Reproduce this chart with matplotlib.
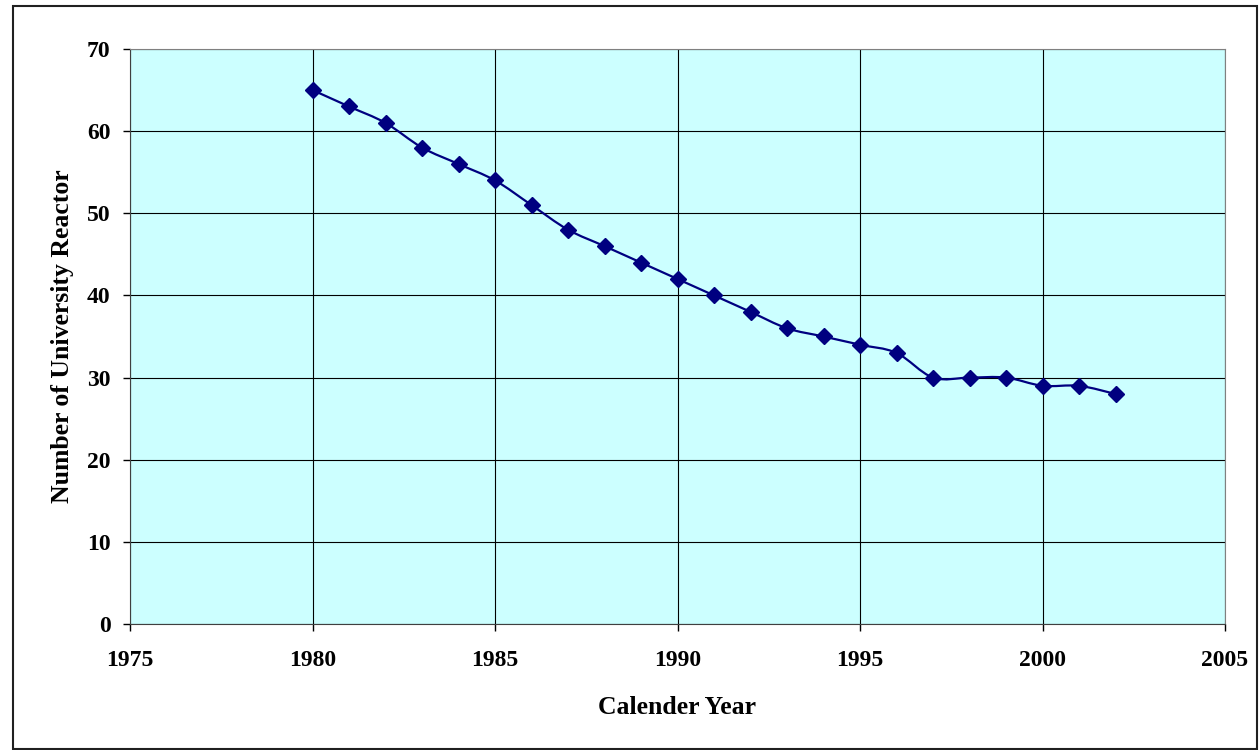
import numpy as np
import matplotlib
matplotlib.use("Agg")
from matplotlib import pyplot as plt
from matplotlib.path import Path
from matplotlib.patches import PathPatch, Rectangle

years = [1980, 1981, 1982, 1983, 1984, 1985, 1986, 1987, 1988, 1989, 1990, 1991,
         1992, 1993, 1994, 1995, 1996, 1997, 1998, 1999, 2000, 2001, 2002]
reactors = [65, 63, 61, 58, 56, 54, 51, 48, 46, 44, 42, 40,
            38, 36, 35, 34, 33, 30, 30, 30, 29, 29, 28]

x_ticks = [1975, 1980, 1985, 1990, 1995, 2000, 2005]
y_ticks = [0, 10, 20, 30, 40, 50, 60, 70]

plt.rcParams['font.family'] = ['Liberation Serif', 'DejaVu Serif']
plt.rcParams['font.weight'] = 'bold'

fig = plt.figure(figsize=(12.6, 7.5), dpi=100)
ax = fig.add_axes([130 / 1260, 1 - 624 / 750, 1095 / 1260, 575 / 750])
ax.set_facecolor('#ccffff')

# smoothed line like Excel (Catmull-Rom as cubic bezier)
x = np.array(years, dtype=float)
y = np.array(reactors, dtype=float)
verts = [(x[0], y[0])]
codes = [Path.MOVETO]
n = len(x)
for i in range(n - 1):
    i0 = max(i - 1, 0)
    i3 = min(i + 2, n - 1)
    c1 = (x[i] + (x[i + 1] - x[i0]) / 6, y[i] + (y[i + 1] - y[i0]) / 6)
    c2 = (x[i + 1] - (x[i3] - x[i]) / 6, y[i + 1] - (y[i3] - y[i]) / 6)
    verts += [c1, c2, (x[i + 1], y[i + 1])]
    codes += [Path.CURVE4] * 3
ax.add_patch(PathPatch(Path(verts, codes), facecolor='none', edgecolor='#000080',
                       lw=1.6, zorder=3))
ax.plot(years, reactors, ls='none', marker='D', ms=8.5, color='#000080', zorder=4)

ax.set_xlim(1975, 2005)
ax.set_ylim(0, 70)
ax.set_xticks(x_ticks)
ax.set_yticks(y_ticks)
ax.grid(True, color='black', lw=0.8)
ax.set_axisbelow(True)
ax.tick_params(direction='out', length=5, width=1, labelsize=17)
ax.tick_params(axis='y', pad=9)
ax.tick_params(axis='x', pad=14)
for s in ['top', 'right']:
    ax.spines[s].set_color('#808080')
for s in ['left', 'bottom']:
    ax.spines[s].set_color('#404040')

ax.set_xlabel('Calender Year', fontsize=18.5, fontweight='bold', labelpad=18)
ax.set_ylabel('Number of University Reactor', fontsize=18.5, fontweight='bold', labelpad=9)

fig.patches.append(Rectangle((13 / 1260, 0.002), 1244 / 1260, 1 - 6 / 750 - 0.002,
                             transform=fig.transFigure, fill=False,
                             edgecolor='#202020', lw=1.5))

fig.savefig('out.png', dpi=100)
